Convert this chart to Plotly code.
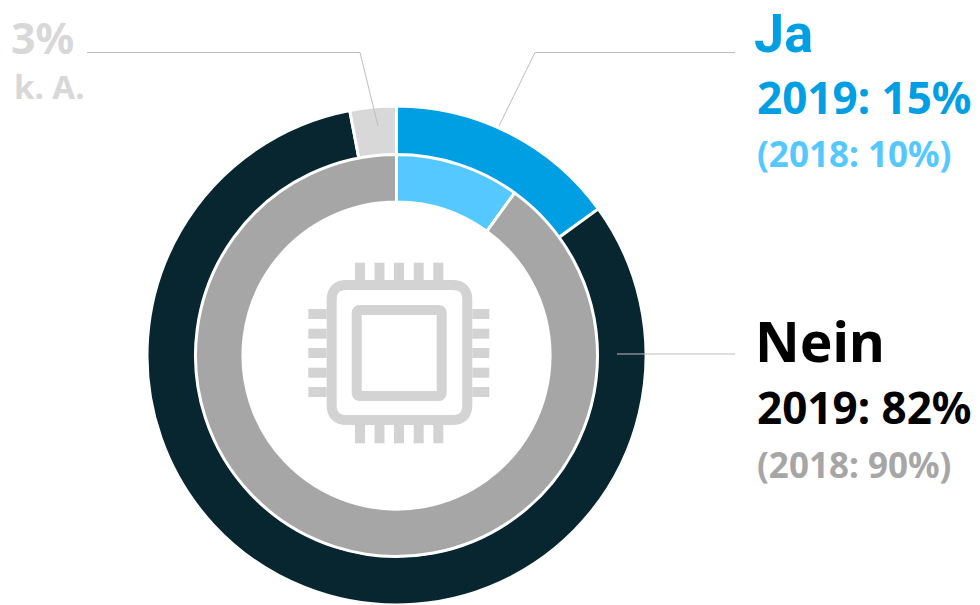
import plotly.graph_objects as go

categories_2019 = ["Ja", "Nein", "k. A."]
values_2019 = [15, 82, 3]
colors_2019 = ["#009fe3", "#07262f", "#d8d8d8"]
categories_2018 = ["Ja", "Nein"]
values_2018 = [10, 90]
colors_2018 = ["#55c9ff", "#a6a6a6"]

W, H = 980, 605
FONT = "Noto Sans"
CX, CY = 396.5, 355.5


def fx(v):
    return v / W


def fy(v):
    return 1 - v / H


def domain(r):
    return dict(x=[fx(CX - r), fx(CX + r)], y=[max(0, fy(CY + r)), fy(CY - r)])


def pie(labels, values, colors, r, hole, name):
    return go.Pie(
        labels=labels, values=values, name=name, sort=False, direction="clockwise", rotation=0,
        hole=hole, domain=domain(r), textinfo="none", hoverinfo="label+percent",
        marker=dict(colors=colors, line=dict(color="white", width=3)), showlegend=False,
    )


fig = go.Figure([
    pie(categories_2019, values_2019, colors_2019, 249.5, 0.803, "2019"),
    pie(categories_2018, values_2018, colors_2018, 201, 0.764, "2018"),
])

shapes = []
LINE = "#bdbdbd"
CHIP = "#d3d3d3"


def path(pts, color=LINE, width=1):
    d = "M " + " L ".join(f"{fx(x):.5f},{fy(y):.5f}" for x, y in pts)
    shapes.append(dict(type="path", xref="paper", yref="paper", path=d, line=dict(color=color, width=width)))


def rrect(x0, y0, x1, y1, r, width):
    d = (f"M {fx(x0+r):.5f},{fy(y0):.5f} L {fx(x1-r):.5f},{fy(y0):.5f} "
         f"Q {fx(x1):.5f},{fy(y0):.5f} {fx(x1):.5f},{fy(y0+r):.5f} L {fx(x1):.5f},{fy(y1-r):.5f} "
         f"Q {fx(x1):.5f},{fy(y1):.5f} {fx(x1-r):.5f},{fy(y1):.5f} L {fx(x0+r):.5f},{fy(y1):.5f} "
         f"Q {fx(x0):.5f},{fy(y1):.5f} {fx(x0):.5f},{fy(y1-r):.5f} L {fx(x0):.5f},{fy(y0+r):.5f} "
         f"Q {fx(x0):.5f},{fy(y0):.5f} {fx(x0+r):.5f},{fy(y0):.5f} Z")
    shapes.append(dict(type="path", xref="paper", yref="paper", path=d, line=dict(color=CHIP, width=width)))


# leader lines
path([(735, 52.5), (535, 52.5), (499, 126)])
path([(87, 52.5), (360, 52.5), (378, 126)])
path([(617, 354), (735, 354)])

# chip icon
rrect(331.7, 285, 467.3, 420, 15, 10)
rrect(356.7, 310, 441.7, 396, 3, 10)
for x in [360, 379.5, 399, 418.7, 438.3]:
    path([(x, 262.7), (x, 280)], CHIP, 10)
    path([(x, 425), (x, 443.3)], CHIP, 10)
for y in [314, 333.7, 353, 372.7, 392]:
    path([(308.3, y), (326.7, y)], CHIP, 10)
    path([(472.3, y), (489.3, y)], CHIP, 10)

labels = [
    ("Ja", 752, 33, 54, "#009fe3", "Roboto"),
    ("2019: 15%", 755, 97, 44, "#009fe3", FONT),
    ("(2018: 10%)", 755, 153, 35, "#55c9ff", FONT),
    ("Nein", 753, 340, 55, "#000000", FONT),
    ("2019: 82%", 755, 407, 44, "#000000", FONT),
    ("(2018: 90%)", 755, 464, 35, "#a6a6a6", FONT),
    ("3%", 9, 38, 43, "#d8d8d8", FONT),
    ("k. A.", 12, 87, 33, "#d8d8d8", FONT),
]
annotations = [
    dict(text=f"<b>{t}</b>", x=fx(x), y=fy(y), xref="paper", yref="paper", xanchor="left", yanchor="middle",
         showarrow=False, font=dict(family=f, size=s, color=c))
    for t, x, y, s, c, f in labels
]

fig.update_layout(
    width=W, height=H, margin=dict(l=0, r=0, t=0, b=0), paper_bgcolor="white",
    shapes=shapes, annotations=annotations, showlegend=False,
)
fig.write_html(
    "out.html",
    config={"displayModeBar": False},
    post_script="document.body.style.margin='0';document.documentElement.style.overflow='hidden';",
)
